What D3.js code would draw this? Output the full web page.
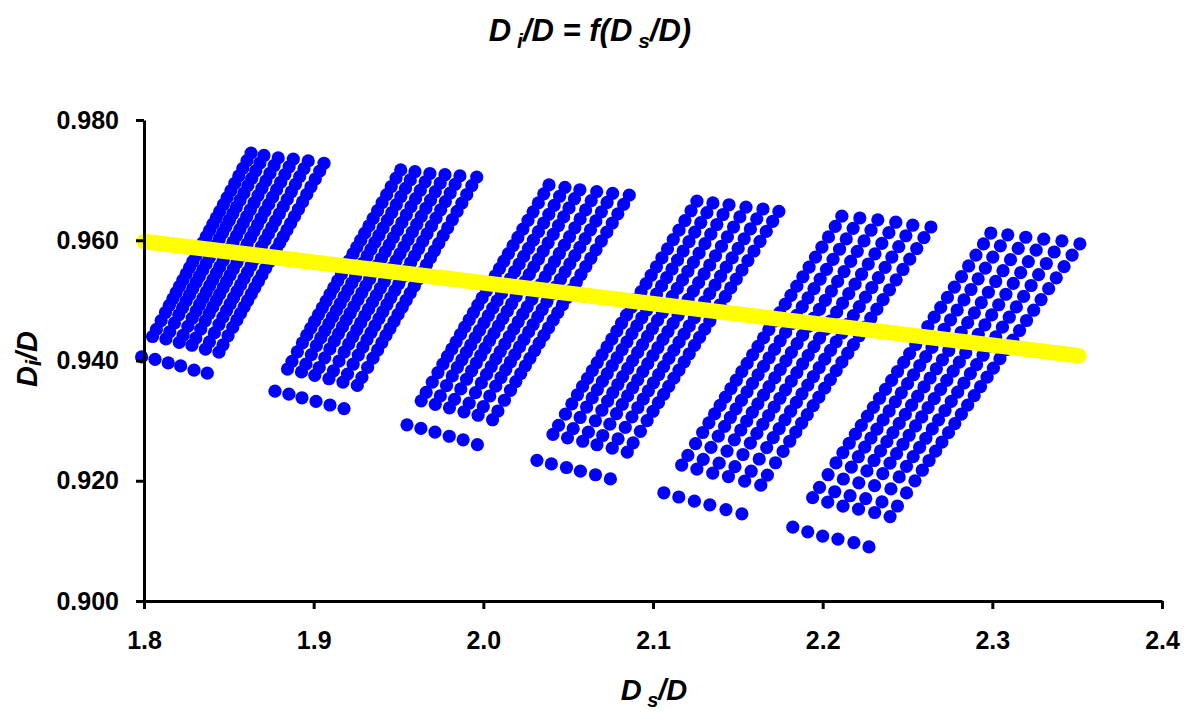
<!DOCTYPE html>
<html>
<head>
<meta charset="utf-8">
<script src="https://cdnjs.cloudflare.com/ajax/libs/d3/7.8.5/d3.min.js"></script>
<style>
  body { margin: 0; background: #fff; }
  svg text { font-family: "Liberation Sans", Arial, sans-serif; font-weight: bold; fill: #000; }
</style>
</head>
<body>
<div id="chart"></div>
<script>
// x = Ds/D, y = Di/D
var xTicks = [1.8, 1.9, 2.0, 2.1, 2.2, 2.3, 2.4];
var yTicks = [0.900, 0.920, 0.940, 0.960, 0.980];

// six groups of six runs; each run goes from its lowest point (the loose
// bottom row) up to its top point
var startX = [
  [1.7986, 1.8065, 1.8143, 1.8216, 1.8295, 1.8373],
  [1.8772, 1.8854, 1.8931, 1.9014, 1.9096, 1.9179],
  [1.9550, 1.9632, 1.9715, 1.9799, 1.9881, 1.9965],
  [2.0316, 2.0401, 2.0490, 2.0572, 2.0661, 2.0749],
  [2.1064, 2.1152, 2.1244, 2.1335, 2.1430, 2.1524],
  [2.1824, 2.1912, 2.2000, 2.2090, 2.2184, 2.2273]
];
var startY = [
  [0.9406, 0.9402, 0.9396, 0.9391, 0.9384, 0.9379],
  [0.9349, 0.9344, 0.9338, 0.9332, 0.9326, 0.9320],
  [0.9293, 0.9287, 0.9281, 0.9274, 0.9268, 0.9260],
  [0.9234, 0.9228, 0.9222, 0.9216, 0.9210, 0.9203],
  [0.9180, 0.9173, 0.9166, 0.9160, 0.9152, 0.9145],
  [0.9123, 0.9115, 0.9108, 0.9103, 0.9097, 0.9090]
];
var endX = [
  [1.8631, 1.8707, 1.8791, 1.8880, 1.8968, 1.9061],
  [1.9513, 1.9597, 1.9685, 1.9774, 1.9862, 1.9961],
  [2.0387, 2.0481, 2.0569, 2.0668, 2.0762, 2.0860],
  [2.1259, 2.1353, 2.1448, 2.1548, 2.1648, 2.1742],
  [2.2113, 2.2219, 2.2325, 2.2431, 2.2531, 2.2638],
  [2.2991, 2.3091, 2.3197, 2.3303, 2.3410, 2.3516]
];
var endY = [
  [0.9745, 0.9741, 0.9737, 0.9735, 0.9732, 0.9728],
  [0.9717, 0.9714, 0.9711, 0.9709, 0.9707, 0.9705],
  [0.9692, 0.9688, 0.9684, 0.9681, 0.9678, 0.9675],
  [0.9665, 0.9662, 0.9659, 0.9655, 0.9652, 0.9648],
  [0.9640, 0.9637, 0.9634, 0.9630, 0.9625, 0.9622],
  [0.9612, 0.9609, 0.9605, 0.9602, 0.9599, 0.9594]
];
// where each point of a run sits between its lowest and top point
var stepPos = [0, 0.100, 0.135, 0.178, 0.218, 0.253, 0.285, 0.316, 0.346,
  0.377, 0.407, 0.438, 0.468, 0.499, 0.529, 0.560, 0.590, 0.621, 0.651,
  0.682, 0.714, 0.747, 0.781, 0.816, 0.852, 0.888, 0.925, 0.963, 1.000];

// yellow trend line
var fitX = [1.8, 2.351];
var fitY = [0.9598, 0.9408];

var width = 1191,
    height = 713,
    margin = {top: 120, right: 29, bottom: 112, left: 144};

var x = d3.scaleLinear().domain([1.8, 2.4]).range([margin.left, width - margin.right]);
var y = d3.scaleLinear().domain([0.900, 0.980]).range([height - margin.bottom, margin.top]);

var svg = d3.select("#chart").append("svg")
    .attr("width", width)
    .attr("height", height)
    .style("background", "#fff");

var points = [];
startX.forEach(function(row, g) {
  row.forEach(function(x0, r) {
    stepPos.forEach(function(t) {
      points.push({
        x: x0 + t * (endX[g][r] - x0),
        y: startY[g][r] + t * (endY[g][r] - startY[g][r])
      });
    });
  });
});

svg.append("g").selectAll("circle")
    .data(points)
  .enter().append("circle")
    .attr("cx", function(d) { return x(d.x); })
    .attr("cy", function(d) { return y(d.y); })
    .attr("r", 6.6)
    .attr("fill", "#0000ff");

svg.append("path")
    .datum(d3.zip(fitX, fitY))
    .attr("d", d3.line().x(function(d) { return x(d[0]); }).y(function(d) { return y(d[1]); }))
    .attr("fill", "none")
    .attr("stroke", "#ffff00")
    .attr("stroke-width", 15.5)
    .attr("stroke-linecap", "round");

// axes
var yAxis = svg.append("g")
    .attr("transform", "translate(" + margin.left + ",0)")
    .call(d3.axisLeft(y).tickValues(yTicks).tickFormat(d3.format(".3f"))
      .tickSize(8).tickSizeOuter(0).tickPadding(17));

var xAxis = svg.append("g")
    .attr("transform", "translate(0," + (height - margin.bottom) + ")")
    .call(d3.axisBottom(x).tickValues(xTicks).tickFormat(d3.format(".1f"))
      .tickSize(8).tickSizeOuter(0).tickPadding(22));

[yAxis, xAxis].forEach(function(a) {
  a.select(".domain").attr("stroke", "#000").attr("stroke-width", 3);
  a.selectAll(".tick line").attr("stroke", "#000").attr("stroke-width", 3);
  a.selectAll(".tick text").style("font-size", "25px").attr("fill", "#000");
});

// titles
var title = svg.append("text")
    .attr("x", 590)
    .attr("y", 41)
    .attr("text-anchor", "middle")
    .style("font-size", "31px")
    .style("font-style", "italic");
title.append("tspan").text("D");
title.append("tspan").attr("dy", 7).style("font-size", "21px").text(" i");
title.append("tspan").attr("dy", -7).text("/D = f(D");
title.append("tspan").attr("dy", 7).style("font-size", "21px").text(" s");
title.append("tspan").attr("dy", -7).text("/D)");

var xTitle = svg.append("text")
    .attr("x", 654)
    .attr("y", 700)
    .attr("text-anchor", "middle")
    .style("font-size", "29px")
    .style("font-style", "italic");
xTitle.append("tspan").text("D");
xTitle.append("tspan").attr("dy", 7).style("font-size", "20px").text(" s");
xTitle.append("tspan").attr("dy", -7).text("/D");

var yTitle = svg.append("text")
    .attr("transform", "translate(37,359) rotate(-90)")
    .attr("text-anchor", "middle")
    .style("font-size", "29px")
    .style("font-style", "italic");
yTitle.append("tspan").text("D");
yTitle.append("tspan").attr("dy", 4).style("font-size", "22px").text("i");
yTitle.append("tspan").attr("dy", -4).text("/D");
</script>
</body>
</html>
